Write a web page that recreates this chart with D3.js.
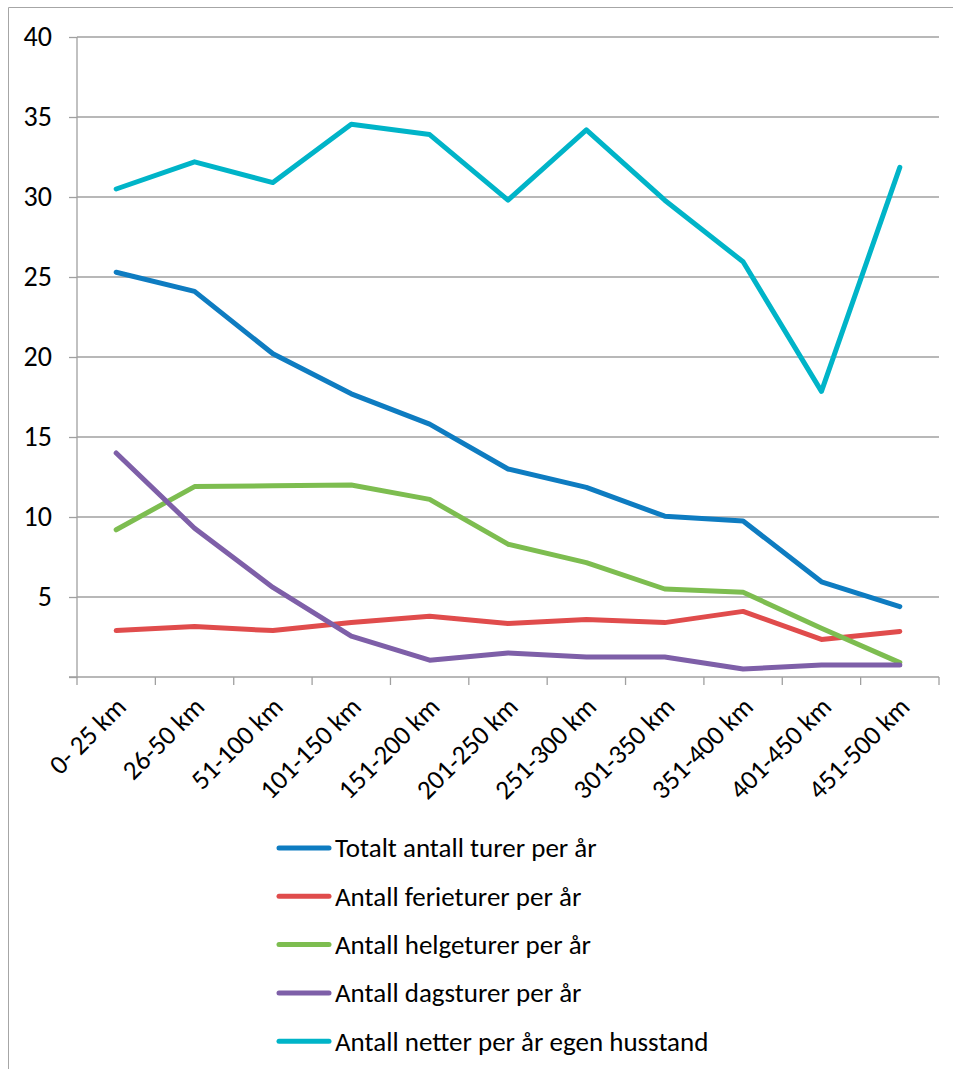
<!DOCTYPE html>
<html>
<head>
<meta charset="utf-8">
<script src="https://cdn.jsdelivr.net/npm/d3@7"></script>
<style>
  html, body { margin: 0; padding: 0; background: #fff; }
  svg text { font-family: Carlito, Calibri, Lato, "Open Sans", sans-serif; fill: #000; }
</style>
</head>
<body>
<svg id="chart" width="953" height="1069"></svg>
<script>
const categories = ["0- 25 km", "26-50 km", "51-100 km", "101-150 km", "151-200 km", "201-250 km", "251-300 km", "301-350 km", "351-400 km", "401-450 km", "451-500 km"];
const seriesNames = ["Totalt antall turer per år", "Antall ferieturer per år", "Antall helgeturer per år", "Antall dagsturer per år", "Antall netter per år egen husstand"];
const totalt   = [25.3, 24.1, 20.2, 17.7, 15.8, 13.0, 11.85, 10.05, 9.75, 5.95, 4.4];
const ferie    = [2.9, 3.15, 2.9, 3.4, 3.8, 3.35, 3.6, 3.4, 4.1, 2.35, 2.85];
const helge    = [9.2, 11.9, 11.95, 12.0, 11.1, 8.3, 7.15, 5.5, 5.3, 3.05, 0.9];
const dags     = [14.0, 9.3, 5.6, 2.55, 1.05, 1.5, 1.25, 1.25, 0.5, 0.75, 0.75];
const netter   = [30.5, 32.2, 30.9, 34.55, 33.9, 29.8, 34.2, 29.8, 25.95, 17.85, 31.85];
const yTicks   = [0, 5, 10, 15, 20, 25, 30, 35, 40];
const yTickLabels = ["", "5", "10", "15", "20", "25", "30", "35", "40"];
const colors   = ["#0E7CC1", "#E04C4C", "#7DBD50", "#7E5FA8", "#00B4C8"];

const seriesValues = [totalt, ferie, helge, dags, netter];

const svg = d3.select("#chart");
const fontSize = 27;

// chart-area border
svg.append("path")
  .attr("d", "M8.5,1069 V7.5 H953")
  .attr("fill", "none").attr("stroke", "#A6A6A6").attr("stroke-width", 1);

const pLeft = 77, pRight = 939, pTop = 37, pBottom = 677;

const x = d3.scaleBand().domain(categories).range([pLeft, pRight]).padding(0);
const y = d3.scaleLinear().domain([0, 40]).range([pBottom, pTop]);

// gridlines
svg.append("g").selectAll("line").data(yTicks.filter(d => d > 0)).join("line")
  .attr("x1", pLeft).attr("x2", pRight)
  .attr("y1", d => y(d)).attr("y2", d => y(d))
  .attr("stroke", "#A0A0A0").attr("stroke-width", 1.3);

// y axis
const yAxis = d3.axisLeft(y).tickValues(yTicks)
  .tickFormat((d, i) => yTickLabels[i]).tickSize(8).tickPadding(17);
const gy = svg.append("g").attr("transform", `translate(${pLeft},0)`).call(yAxis);
gy.select(".domain").attr("stroke", "#A0A0A0").attr("stroke-width", 1.3).attr("d", `M-8,${pBottom}H0V${pTop}`);
gy.selectAll(".tick line").attr("stroke", "#A0A0A0").attr("stroke-width", 1.3);
gy.selectAll(".tick text").attr("font-size", 28).attr("font-family", "Carlito, Calibri, Lato, sans-serif").attr("fill", "#000");

// x axis line & ticks at band boundaries
svg.append("line").attr("x1", pLeft).attr("x2", pRight).attr("y1", pBottom).attr("y2", pBottom)
  .attr("stroke", "#A0A0A0").attr("stroke-width", 1.3);
const boundaries = categories.map(c => x(c)).concat([pRight]);
svg.append("g").selectAll("line").data(boundaries).join("line")
  .attr("x1", d => d).attr("x2", d => d).attr("y1", pBottom).attr("y2", pBottom + 8)
  .attr("stroke", "#A0A0A0").attr("stroke-width", 1.3);

// x labels rotated
svg.append("g").selectAll("text").data(categories).join("text")
  .attr("transform", d => `translate(${x(d) + x.bandwidth() / 2 + 2},${pBottom + 22}) rotate(-45)`)
  .attr("text-anchor", "end")
  .attr("dy", "0.5em")
  .attr("font-size", fontSize)
  .text(d => d);

// lines
const line = d3.line().x((d, i) => x(categories[i]) + x.bandwidth() / 2).y(d => y(d));
svg.append("g").selectAll("path").data(seriesValues).join("path")
  .attr("d", d => line(d))
  .attr("fill", "none")
  .attr("stroke", (d, i) => colors[i])
  .attr("stroke-width", 5)
  .attr("stroke-linecap", "round")
  .attr("stroke-linejoin", "round");

// legend
const legY0 = 848, legStep = 48.3;
const leg = svg.append("g").selectAll("g").data(seriesNames).join("g")
  .attr("transform", (d, i) => `translate(0,${legY0 + i * legStep})`);
leg.append("line").attr("x1", 279).attr("x2", 329).attr("y1", 0).attr("y2", 0)
  .attr("stroke", (d, i) => colors[i]).attr("stroke-width", 5).attr("stroke-linecap", "round");
leg.append("text").attr("x", 335).attr("y", 0).attr("dy", "0.35em")
  .attr("font-size", fontSize).text(d => d);
</script>
</body>
</html>
